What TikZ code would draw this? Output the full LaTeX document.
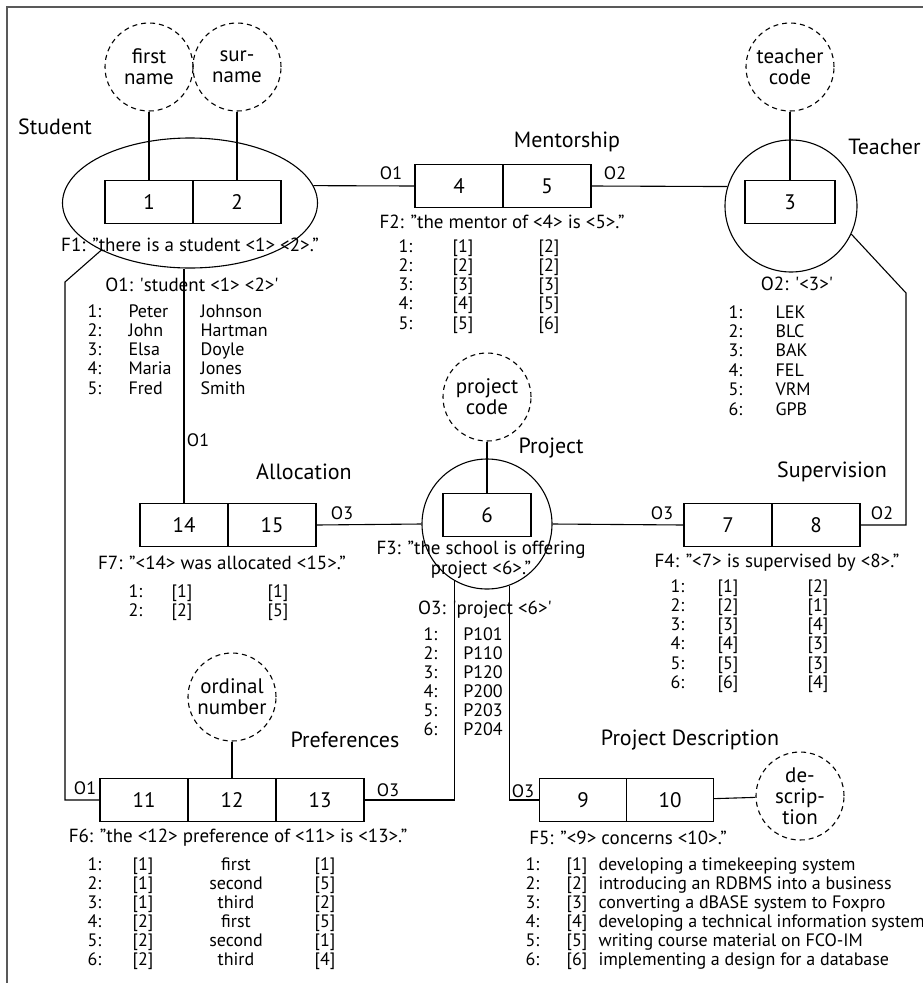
\documentclass[tikz,border=0pt]{standalone}
\usepackage{fontspec}
\setmainfont{PT Sans}
\usetikzlibrary{
    calc,
    shapes.geometric
}
\tikzset{
  every path/.style={
    black,
    line width=1.1pt
  },
  cell/.style={
    draw, rectangle, inner sep=0pt,
    minimum width=88pt, minimum height=43pt,
    font=\fontsize{21}{22}\selectfont
  },
  valuetype/.style={
    draw, circle, dash pattern=on 5pt off 4pt, inner sep=0pt,
    minimum size=88pt, align=center,
    font=\fontsize{21}{21}\selectfont
  },
  objtype/.style={draw, circle, inner sep=0pt, minimum size=132pt},
  typename/.style={inner sep=0pt, font=\fontsize{22}{24}\selectfont},
  rolename/.style={inner sep=0pt, font=\fontsize{18}{20}\selectfont},
  facttext/.style={inner sep=0pt, align=center, font=\fontsize{19}{20}\selectfont},
  pop/.style={
    inner sep=0pt, text height=13pt, text depth=3pt,
    font=\fontsize{18}{19}\selectfont
  }
}

\begin{document}
\begin{tikzpicture}[x=1pt,y=-1pt]
    \useasboundingbox (0,0) rectangle (923,983);
    \draw[black!65] (7,983) -- (7,7) -- (923,7);

    % object types
    \node[draw,ellipse,inner sep=0pt,minimum width=255pt,minimum height=130pt] (student) at (190,203) {};
    \node[objtype] (teacher) at (791,206) {};
    \node[objtype,minimum size=130pt] (project) at (487,524) {};

    % roles
    \node[cell] (c1) at (149,202) {1};
    \node[cell] (c2) at (237,202) {2};
    \node[cell] (c4) at (459,186) {4};
    \node[cell] (c5) at (547,186) {5};
    \node[cell,minimum width=90pt] (c3) at (790,202) {3};
    \node[cell] (c14) at (184,525) {14};
    \node[cell] (c15) at (272,525) {15};
    \node[cell] (c6) at (487,515) {6};
    \node[cell] (c7) at (728,525) {7};
    \node[cell] (c8) at (816,525) {8};
    \node[cell] (c11) at (144,800) {11};
    \node[cell] (c12) at (232,800) {12};
    \node[cell] (c13) at (320,800) {13};
    \node[cell,minimum width=87pt] (c9) at (583,800) {9};
    \node[cell,minimum width=87pt] (c10) at (670,800) {10};

    % label types
    \node[valuetype] (fname) at (149,67) {first\\name};
    \node[valuetype] (sname) at (237,67) {sur-\\name};
    \node[valuetype] (tcode) at (790,67) {teacher\\code};
    \node[valuetype] (pcode) at (487,397) {project\\code};
    \node[valuetype] (ordnum) at (232,697) {ordinal\\number};
    \node[valuetype] (descr) at (800,796) {de-\\scrip-\\tion};

    % names
    \node[typename] (nstudent) at (55,127) {Student};
    \node[typename] (nmentor) at (567,142) {Mentorship};
    \node[typename,anchor=east] (nteacher) at (921,147) {Teacher};
    \node[typename] (nalloc) at (304,472) {Allocation};
    \node[typename] (nproject) at (551,448) {Project};
    \node[typename] (nsuper) at (832,472) {Supervision};
    \node[typename] (npref) at (345,740) {Preferences};
    \node[typename] (ndescr) at (690,740) {Project Description};

    % role labels
    \node[rolename] (r4) at (391,173) {O1};
    \node[rolename] (r5) at (615,173) {O2};
    \node[rolename] (r14) at (198,440) {O1};
    \node[rolename] (r15) at (342,513) {O3};
    \node[rolename] (r7) at (662,513) {O3};
    \node[rolename] (r8) at (882,513) {O2};
    \node[rolename] (r11) at (85,788) {O1};
    \node[rolename] (r13) at (388,790) {O3};
    \node[rolename] (r9) at (523,791) {O3};

    % connectors
    \coordinate (sbend) at (65,282);
    \coordinate (tbend) at (906,293);
    \draw (fname) -- (c1);
    \draw (sname) -- (c2);
    \draw (tcode) -- (c3);
    \draw (pcode) -- (c6);
    \draw (ordnum) -- (c12);
    \draw (c10) -- (descr);
    \draw (student.8) -- (c4.west);
    \draw (c5.east) -- (teacher.163);
    \draw (c14.north) -- (c14.north |- student.south);
    \draw (student.208) -- (sbend) |- (c11.west);
    \draw (teacher.-25) -- (tbend) |- (c8.east);
    \draw (c15.east) -- (project.west);
    \draw (project.east) -- (c7.west);
    \draw (project.240.5) |- (c13.east);
    \draw (project.290) |- (c9.west);

    % fact type texts
    \node[facttext] (f1) at (190,245) {F1: "there is a student <1> <2>."};
    \node[facttext] (f2) at (502,222) {F2: "the mentor of <4> is <5>."};
    \node[facttext] (f3) at (481,560) {F3: "the school is offering\\project <6>."};
    \node[facttext] (f4) at (777,563) {F4: "<7> is supervised by <8>."};
    \node[facttext] (f5) at (628,838) {F5: "<9> concerns <10>."};
    \node[facttext] (f6) at (238,838) {F6: "the <12> preference of <11> is <13>."};
    \node[facttext] (f7) at (222,563) {F7: "<14> was allocated <15>."};
    \node[facttext] (o1) at (192,285) {O1: \textquotesingle student <1> <2>\textquotesingle};
    \node[facttext] (o2) at (797,284) {O2: \textquotesingle <3>\textquotesingle};
    \node[facttext] (o3) at (485,610) {O3: \textquotesingle project <6>\textquotesingle};

    % populations
    \foreach \fn/\sn [count=\i] in {Peter/Johnson,John/Hartman,Elsa/Doyle,Maria/Jones,Fred/Smith} {
        \node[pop,anchor=west] (sa\i) at (87,{312+19.3*(\i-1)}) {\i:};
        \node[pop,anchor=west] (sb\i) at (128,{312+19.3*(\i-1)}) {\fn};
        \node[pop,anchor=west] (sc\i) at (200,{312+19.3*(\i-1)}) {\sn};
    }
    \foreach \a/\b [count=\i] in {1/2,2/2,3/3,4/5,5/6} {
        \node[pop,anchor=west] (ma\i) at (398,{247+19.3*(\i-1)}) {\i:};
        \node[pop] (mb\i) at (463,{247+19.3*(\i-1)}) {[\a]};
        \node[pop] (mc\i) at (549,{247+19.3*(\i-1)}) {[\b]};
    }
    \foreach \t [count=\i] in {LEK,BLC,BAK,FEL,VRM,GPB} {
        \node[pop,anchor=west] (ta\i) at (728,{313+19.4*(\i-1)}) {\i:};
        \node[pop,anchor=west] (tb\i) at (775,{313+19.4*(\i-1)}) {\t};
    }
    \foreach \a/\b [count=\i] in {1/1,2/5} {
        \node[pop,anchor=west] (aa\i) at (128,{592+19.5*(\i-1)}) {\i:};
        \node[pop] (ab\i) at (182,{592+19.5*(\i-1)}) {[\a]};
        \node[pop] (ac\i) at (278,{592+19.5*(\i-1)}) {[\b]};
    }
    \foreach \p [count=\i] in {P101,P110,P120,P200,P203,P204} {
        \node[pop,anchor=west] (pa\i) at (423,{635+19.1*(\i-1)}) {\i:};
        \node[pop] (pb\i) at (483,{635+19.1*(\i-1)}) {\p};
    }
    \foreach \a/\b [count=\i] in {1/2,2/1,3/4,4/3,5/3,6/4} {
        \node[pop,anchor=west] (va\i) at (670,{587+19.3*(\i-1)}) {\i:};
        \node[pop] (vb\i) at (728,{587+19.3*(\i-1)}) {[\a]};
        \node[pop] (vc\i) at (818,{587+19.3*(\i-1)}) {[\b]};
    }
    \foreach \a/\o/\b [count=\i] in {1/first/1,1/second/5,1/third/2,2/first/5,2/second/1,2/third/4} {
        \node[pop,anchor=west] (ea\i) at (87,{865+19.1*(\i-1)}) {\i:};
        \node[pop] (eb\i) at (143,{865+19.1*(\i-1)}) {[\a]};
        \node[pop] (ec\i) at (236,{865+19.1*(\i-1)}) {\o};
        \node[pop] (ed\i) at (325,{865+19.1*(\i-1)}) {[\b]};
    }
    \foreach \d [count=\i] in {developing a timekeeping system,introducing an RDBMS into a business,converting a dBASE system to Foxpro,developing a technical information system,writing course material on FCO-IM,implementing a design for a database} {
        \node[pop,anchor=west] (da\i) at (525,{865+19.1*(\i-1)}) {\i:};
        \node[pop] (db\i) at (577,{865+19.1*(\i-1)}) {[\i]};
        \node[pop,anchor=west] (dc\i) at (598,{865+19.1*(\i-1)}) {\d};
    }
\end{tikzpicture}
\end{document}
